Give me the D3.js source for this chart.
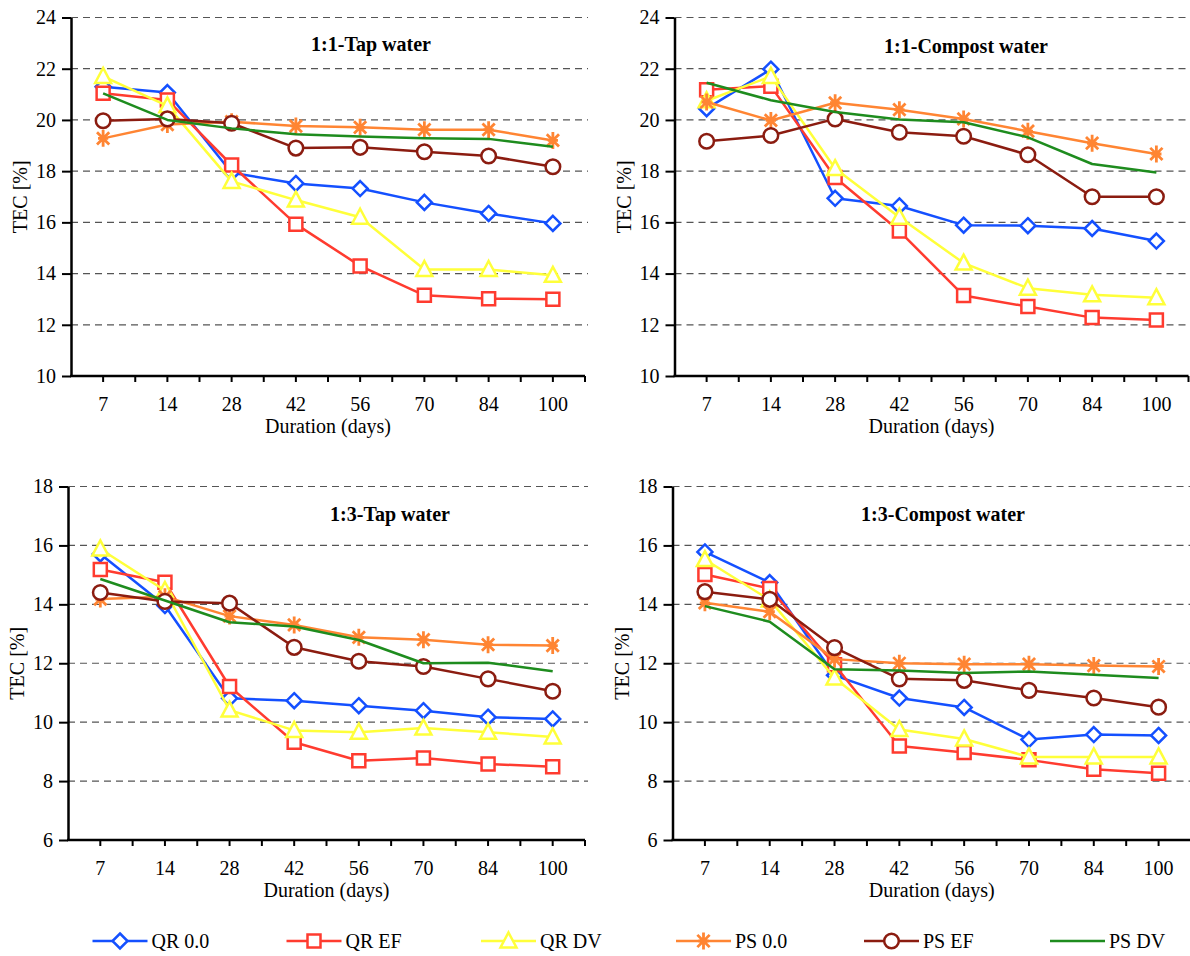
<!DOCTYPE html>
<html><head><meta charset="utf-8">
<script src="https://cdn.jsdelivr.net/npm/d3@7"></script>
<style>
body{margin:0;background:#fff}
svg{display:block}
text{font-family:"Liberation Serif","Times New Roman",serif;fill:#000}
</style>
</head><body>
<svg id="chart" width="1190" height="956"></svg>
<script>
// ---------- data ----------
const durations = ["7","14","28","42","56","70","84","100"];
const seriesNames = ["QR 0.0","QR EF","QR DV","PS 0.0","PS EF","PS DV"];
const seriesColors = ["#1450ff","#ff3b2f","#ffff3a","#ff8533","#8b1c10","#1e8c1e"];
const seriesMarkers = ["diamond","square","triangle","star","circle","none"];
const panelTitles = ["1:1-Tap water","1:1-Compost water","1:3-Tap water","1:3-Compost water"];
const yTicksTop = [10,12,14,16,18,20,22,24];
const yTicksBottom = [6,8,10,12,14,16,18];
const xAxisTitle = "Duration (days)";
const yAxisTitle = "TEC [%]";

// 1:1 Tap water
const tap11_QR00 = [21.3,21.07,17.94,17.52,17.32,16.78,16.35,15.96];
const tap11_QREF = [21.04,20.78,18.24,15.93,14.3,13.15,13.02,13.0];
const tap11_QRDV = [21.7,20.55,17.6,16.87,16.2,14.16,14.16,13.93];
const tap11_PS00 = [19.28,19.82,19.93,19.76,19.71,19.62,19.62,19.2];
const tap11_PSEF = [19.97,20.04,19.87,18.9,18.93,18.76,18.59,18.17];
const tap11_PSDV = [21.04,20.0,19.67,19.44,19.35,19.28,19.26,18.95];
// 1:1 Compost water
const comp11_QR00 = [20.44,21.98,16.94,16.64,15.89,15.87,15.76,15.27];
const comp11_QREF = [21.18,21.32,17.75,15.66,13.14,12.71,12.28,12.19];
const comp11_QRDV = [20.75,21.7,18.1,16.2,14.41,13.43,13.17,13.06];
const comp11_PS00 = [20.7,19.98,20.67,20.4,20.04,19.56,19.09,18.67];
const comp11_PSEF = [19.17,19.39,20.04,19.52,19.36,18.64,17.0,17.0];
const comp11_PSDV = [21.45,20.77,20.31,20.02,19.91,19.32,18.28,17.95];
// 1:3 Tap water
const tap13_QR00 = [15.71,13.96,10.81,10.73,10.56,10.39,10.17,10.11];
const tap13_QREF = [15.18,14.75,11.21,9.32,8.69,8.78,8.58,8.49];
const tap13_QRDV = [15.88,14.47,10.41,9.72,9.66,9.8,9.66,9.5];
const tap13_PS00 = [14.18,14.26,13.6,13.3,12.88,12.8,12.63,12.6];
const tap13_PSEF = [14.4,14.1,14.04,12.54,12.07,11.89,11.47,11.05];
const tap13_PSDV = [14.86,14.13,13.39,13.25,12.79,12.0,12.02,11.73];
// 1:3 Compost water
const comp13_QR00 = [15.78,14.74,11.59,10.82,10.5,9.41,9.58,9.55];
const comp13_QREF = [15.01,14.54,11.95,9.19,8.97,8.72,8.4,8.27];
const comp13_QRDV = [15.52,14.15,11.5,9.75,9.43,8.82,8.82,8.82];
const comp13_PS00 = [14.05,13.75,12.14,12.0,11.97,11.97,11.92,11.89];
const comp13_PSEF = [14.43,14.17,12.53,11.47,11.42,11.08,10.82,10.51];
const comp13_PSDV = [13.94,13.41,11.8,11.75,11.67,11.72,11.61,11.5];

const panelSeries = [
  [tap11_QR00,tap11_QREF,tap11_QRDV,tap11_PS00,tap11_PSEF,tap11_PSDV],
  [comp11_QR00,comp11_QREF,comp11_QRDV,comp11_PS00,comp11_PSEF,comp11_PSDV],
  [tap13_QR00,tap13_QREF,tap13_QRDV,tap13_PS00,tap13_PSEF,tap13_PSDV],
  [comp13_QR00,comp13_QREF,comp13_QRDV,comp13_PS00,comp13_PSEF,comp13_PSDV]
];

// ---------- layout ----------
const panels = [
  {x0:71,  x1:585,   yTop:17.5, yBot:376, ticks:yTicksTop,    gridEnd:588,  titleX:371, titleY:44},
  {x0:674.5,x1:1188.5,yTop:17.5,yBot:376, ticks:yTicksTop,    gridEnd:1190, titleX:966, titleY:46},
  {x0:68,  x1:585,   yTop:486.5,yBot:840, ticks:yTicksBottom, gridEnd:588,  titleX:390, titleY:514},
  {x0:672.5,x1:1191, yTop:486.5,yBot:840, ticks:yTicksBottom, gridEnd:1190, titleX:943, titleY:514}
];

const svg = d3.select("#chart");
const FS = 20;

function markerPath(type, s){
  const h = s/2;
  switch(type){
    case "diamond": return `M0,${-h-1}L${h+1},0L0,${h+1}L${-h-1},0Z`;
    case "square": return `M${-h},${-h}H${h}V${h}H${-h}Z`;
    case "triangle": return `M0,${-h-2}L${h+1.5},${h}L${-h-1.5},${h}Z`;
    case "star": { const r=h+2, d=r*0.72;
      return `M0,${-r}V${r}M${-d},${-d}L${d},${d}M${d},${-d}L${-d},${d}M${-r*0.6},0H${r*0.6}`; }
    case "circle": return d3.symbol(d3.symbolCircle, Math.PI*(h+0.8)*(h+0.8))();
  }
  return "";
}

function drawMarker(g, type, color, x, y){
  if(type==="none") return;
  g.append("path").attr("d", markerPath(type, 13))
    .attr("transform", `translate(${x},${y})`)
    .attr("fill", type==="star" ? "none" : "#fff")
    .attr("stroke", color).attr("stroke-width", type==="star" ? 2.8 : 2.5)
    .attr("stroke-linejoin","miter");
}

panels.forEach((p, i) => {
  const g = svg.append("g");
  const x = d3.scaleBand().domain(durations).range([p.x0, p.x1]).paddingInner(0).paddingOuter(0);
  const yMin = d3.min(p.ticks), yMax = d3.max(p.ticks);
  const y = d3.scaleLinear().domain([yMin, yMax]).range([p.yBot, p.yTop]);

  // gridlines
  g.selectAll(".grid").data(p.ticks.filter(t => t !== yMin)).join("line")
    .attr("x1", p.x0).attr("x2", p.gridEnd)
    .attr("y1", d => y(d)).attr("y2", d => y(d))
    .attr("stroke", "#555").attr("stroke-width", 1.2)
    .attr("stroke-dasharray", "7,5");

  // y axis
  const ya = g.append("g").attr("transform", `translate(${p.x0},0)`)
    .call(d3.axisLeft(y).tickValues(p.ticks).tickSize(9).tickSizeOuter(0).tickPadding(6).tickFormat(d3.format("d")));
  ya.select(".domain").attr("stroke", "#000").attr("stroke-width", 2.5);
  ya.selectAll(".tick line").attr("stroke", "#000").attr("stroke-width", 2);
  ya.selectAll(".tick text").attr("font-size", FS).attr("font-family", "Liberation Serif").attr("fill", "#000");

  // x axis (labels)
  const xa = g.append("g").attr("transform", `translate(0,${p.yBot})`)
    .call(d3.axisBottom(x).tickSize(0).tickPadding(21));
  xa.select(".domain").remove();
  xa.selectAll(".tick text").attr("font-size", FS).attr("font-family", "Liberation Serif").attr("fill", "#000");
  g.append("line").attr("x1", p.x0 - 1).attr("x2", p.x1).attr("y1", p.yBot).attr("y2", p.yBot)
    .attr("stroke", "#000").attr("stroke-width", 2.5);
  // tick marks at band edges and centres
  const tickPos = [];
  durations.forEach(d => { tickPos.push(x(d)); tickPos.push(x(d) + x.bandwidth()/2); });
  tickPos.push(p.x1);
  g.selectAll(".xt").data(tickPos.slice(1)).join("line")
    .attr("x1", d => d).attr("x2", d => d)
    .attr("y1", p.yBot).attr("y2", p.yBot + 6)
    .attr("stroke", "#000").attr("stroke-width", 2);

  // axis titles
  g.append("text").attr("x", (p.x0 + p.x1)/2).attr("y", p.yBot + 57)
    .attr("text-anchor", "middle").attr("font-size", FS).text(xAxisTitle);
  g.append("text").attr("transform", `translate(${p.x0 - 44},${(p.yTop + p.yBot)/2}) rotate(-90)`)
    .attr("text-anchor", "middle").attr("font-size", FS).text(yAxisTitle);

  // panel title
  g.append("text").attr("x", p.titleX).attr("y", p.titleY + 7)
    .attr("text-anchor", "middle").attr("font-size", FS).attr("font-weight", "bold").text(panelTitles[i]);

  // series
  const line = d3.line().x((d, k) => x(durations[k]) + x.bandwidth()/2).y(d => y(d));
  panelSeries[i].forEach((vals, s) => {
    g.append("path").datum(vals).attr("d", line)
      .attr("fill", "none").attr("stroke", seriesColors[s]).attr("stroke-width", 2.5)
      .attr("stroke-linejoin", "round");
    vals.forEach((v, k) => drawMarker(g, seriesMarkers[s], seriesColors[s], x(durations[k]) + x.bandwidth()/2, y(v)));
  });
});

// ---------- legend ----------
const legendStarts = [92.5, 286.5, 481, 676, 864, 1050];
const legendY = 941;
const lg = svg.append("g");
seriesNames.forEach((name, s) => {
  const x0 = legendStarts[s];
  lg.append("line").attr("x1", x0).attr("x2", x0 + 55).attr("y1", legendY).attr("y2", legendY)
    .attr("stroke", seriesColors[s]).attr("stroke-width", 2.5);
  drawMarker(lg, seriesMarkers[s], seriesColors[s], x0 + 27.5, legendY);
  lg.append("text").attr("x", x0 + 59).attr("y", legendY + 7)
    .attr("font-size", FS).text(name);
});
</script>
</body></html>
